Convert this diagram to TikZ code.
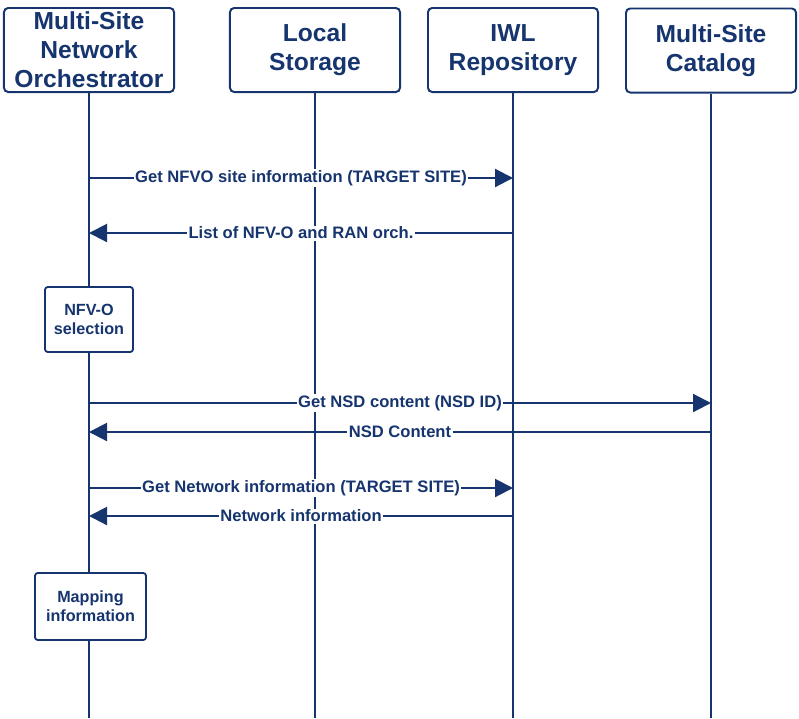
\documentclass[tikz,border=0pt]{standalone}
\usepackage{fontspec}
\setmainfont{Liberation Sans}
\usetikzlibrary{arrows.meta}
\usetikzlibrary{positioning}
\definecolor{navy}{RGB}{22,52,110}
\tikzset{
  actor/.style={
    rectangle,
    rounded corners=3pt,
    draw=navy, line width=1.4pt,
    minimum width=4.25cm,
    minimum height=2.1cm,
    inner sep=1pt,
    align=center,
    text=navy,
    font=\fontsize{17.5}{20.6}\selectfont\bfseries,
  },
  task/.style={
    rectangle,
    rounded corners=2pt,
    draw=navy, line width=1.3pt,
    fill=white,
    inner sep=1pt,
    align=center,
    text=navy,
    font=\fontsize{11.5}{13.5}\selectfont\bfseries,
  },
  life/.style={draw=navy, line width=1.5pt},
  msg/.style={draw=navy, line width=1.5pt, -{Triangle[length=0.45cm,width=0.45cm]}},
  lbl/.style={fill=white, text=navy, inner sep=1pt, font=\fontsize{11.8}{13}\selectfont\bfseries},
}

\begin{document}
\begin{tikzpicture}[x=0.025cm,y=-0.025cm]
  \useasboundingbox (0,0) rectangle (799,718);

  % participants
  \node[actor] (msno) at (89,50) {Multi-Site\\Network\\Orchestrator};
  \node[actor] (local) at (315,50) {Local\\Storage};
  \node[actor] (iwl) at (513,50) {IWL\\Repository};
  \node[actor] (catalog) at (711,50.5) {Multi-Site\\Catalog};

  % lifelines
  \path[life] (msno.south) -- (msno.south |- 0,718);
  \path[life] (local.south) -- (local.south |- 0,718);
  \path[life] (iwl.south) -- (iwl.south |- 0,718);
  \path[life] (catalog.south) -- (catalog.south |- 0,718);

  % local tasks
  \node[task, minimum width=2.2cm, minimum height=1.625cm] (nfvosel) at (msno.south |- 0,319.5) {NFV-O\\selection};
  \node[task, minimum width=2.775cm, minimum height=1.675cm] (mapping) at (90.5,606.5) {Mapping\\information};

  % messages
  \path[msg] (msno.south |- 0,178) -- node[lbl]{Get NFVO site information (TARGET SITE)} (iwl.south |- 0,178);
  \path[msg] (iwl.south |- 0,233) -- node[lbl]{List of NFV-O and RAN orch.} (msno.south |- 0,233);
  \path[msg] (msno.south |- 0,403) -- node[lbl]{Get NSD content (NSD ID)} (catalog.south |- 0,403);
  \path[msg] (catalog.south |- 0,432) -- node[lbl]{NSD Content} (msno.south |- 0,432);
  \path[msg] (msno.south |- 0,488) -- node[lbl]{Get Network information (TARGET SITE)} (iwl.south |- 0,488);
  \path[msg] (iwl.south |- 0,516) -- node[lbl]{Network information} (msno.south |- 0,516);
\end{tikzpicture}
\end{document}
